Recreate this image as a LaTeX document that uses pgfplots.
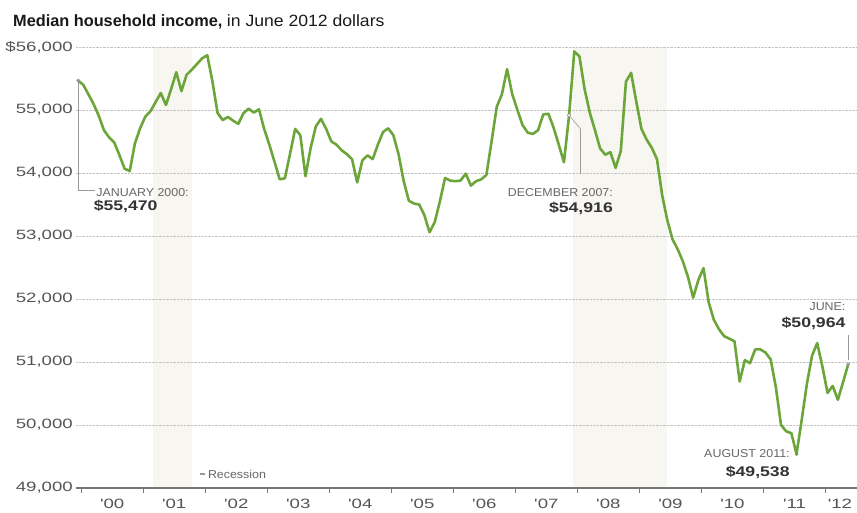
\documentclass[border=0pt]{standalone}
\usepackage{fontspec}
\setmainfont{Liberation Sans}
\newfontfamily\numfont[FakeStretch=1.38]{Liberation Sans}
\newfontfamily\capfont[FakeStretch=1.08]{Liberation Sans}
\newfontfamily\valfont[FakeStretch=1.26]{Liberation Sans}
\usepackage{pgfplots}
\usepackage{pgfplotstable}
\pgfplotsset{compat=1.18}
\definecolor{linegreen}{RGB}{108,166,58}
\definecolor{textgray}{HTML}{555555}
\definecolor{capgray}{HTML}{666666}
\definecolor{valgray}{HTML}{333333}
\definecolor{gridgray}{HTML}{C4C4C4}
\definecolor{recess}{HTML}{F8F6F1}
\definecolor{axisgray}{HTML}{777777}
\definecolor{leadgray}{HTML}{9A9A9A}

\pgfplotstableread{
m v
0 55470
1 55400
2 55250
3 55095
4 54910
5 54680
6 54566
7 54484
8 54285
9 54069
10 54030
11 54470
12 54709
13 54894
14 54980
15 55125
16 55270
17 55080
18 55330
19 55600
20 55300
21 55560
22 55640
23 55730
24 55820
25 55870
26 55450
27 54950
28 54840
29 54890
30 54830
31 54780
32 54950
33 55020
34 54960
35 55010
36 54700
37 54450
38 54180
39 53900
40 53915
41 54300
42 54700
43 54600
44 53950
45 54400
46 54740
47 54860
48 54700
49 54500
50 54450
51 54360
52 54300
53 54220
54 53850
55 54200
56 54280
57 54220
58 54450
59 54650
60 54710
61 54600
62 54300
63 53870
64 53560
65 53515
66 53500
67 53330
68 53060
69 53220
70 53550
71 53920
72 53880
73 53870
74 53880
75 53990
76 53800
77 53870
78 53900
79 53970
80 54500
81 55050
82 55250
83 55650
84 55250
85 55000
86 54760
87 54640
88 54620
89 54680
90 54930
91 54940
92 54720
93 54450
94 54170
95 54916
96 55930
97 55850
98 55330
99 54960
100 54680
101 54390
102 54290
103 54330
104 54080
105 54350
106 55450
107 55590
108 55130
109 54700
110 54530
111 54400
112 54220
113 53650
114 53250
115 52950
116 52790
117 52600
118 52350
119 52020
120 52300
121 52490
122 51950
123 51670
124 51520
125 51410
126 51370
127 51330
128 50690
129 51030
130 50980
131 51200
132 51200
133 51150
134 51040
135 50600
136 50000
137 49900
138 49870
139 49538
140 50080
141 50650
142 51100
143 51300
144 50930
145 50510
146 50620
147 50400
148 50680
149 50964
}\income

\begin{document}
\begin{tikzpicture}
\begin{axis}[
  name=ax,
  at={(0pt,0pt)}, anchor=south west,
  scale only axis,
  width=781pt, height=441pt,
  xmin=-0.4, xmax=150.7,
  ymin=49000, ymax=56000,
  scaled ticks=false,
  set layers=standard,
  clip=false,
  axis x line=bottom, axis y line=left,
  x axis line style={-, draw=axisgray, line width=1.3pt},
  y axis line style={draw=none},
  xtick={6.6,18.6,30.6,42.6,54.6,66.6,78.6,90.6,102.6,114.6,126.6,138.6,147.4},
  xticklabels={{'00},{'01},{'02},{'03},{'04},{'05},{'06},{'07},{'08},{'09},{'10},{'11},{'12}},
  minor xtick={0.6,12.6,...,144.6},
  ytick={49000,50000,...,56000},
  yticklabels={{49,000},{50,000},{51,000},{52,000},{53,000},{54,000},{55,000},{\$56,000}},
  major tick length=0pt,
  minor tick length=5pt,
  tick align=outside,
  minor tick style={axisgray, line width=1pt},
  ymajorgrids=true,
  major grid style={densely dotted, gridgray, line width=0.7pt},
  yticklabel style={font=\numfont\fontsize{13.5pt}{14pt}\selectfont, text=textgray, inner sep=1pt, xshift=-2pt},
  xticklabel style={font=\numfont\fontsize{13.5pt}{14pt}\selectfont, text=textgray, inner sep=0pt, yshift=-11pt},
]
% recession bands
\addplot[fill=recess, draw=none, on layer=axis background] coordinates {(14.5,49000) (22,49000) (22,56000) (14.5,56000)} -- cycle;
\addplot[fill=recess, draw=none, on layer=axis background] coordinates {(95.7,49000) (114,49000) (114,56000) (95.7,56000)} -- cycle;

% leader lines
\draw[leadgray, line width=0.6pt] (axis cs:0,55470) -- (axis cs:0,53730) -- (axis cs:3.3,53730);
\draw[leadgray, line width=0.6pt] (axis cs:95,54916) -- (axis cs:96.3,54788) -- (axis cs:97.2,54700) -- (axis cs:97.2,53995);
\draw[leadgray, line width=0.6pt] (axis cs:149,51430) -- (axis cs:149,51030);
\draw[leadgray, line width=1.2pt] (axis cs:23.6,49222) -- (axis cs:24.5,49222);

% main series
\addplot[linegreen, line width=2.6pt, line join=round] table[x=m, y=v] {\income};

% highlighted points
\addplot[only marks, mark=*, mark size=1.6pt, mark options={fill=leadgray, draw=leadgray}] coordinates {(0,55470) (149,50964)};
\addplot[only marks, mark=*, mark size=1.6pt, mark options={fill=linegreen!70!gray, draw=linegreen!70!gray}] coordinates {(139,49538)};
\addplot[only marks, mark=*, mark size=1.8pt, mark options={fill=white, draw=leadgray, line width=0.6pt}] coordinates {(95,54916)};

% annotations
\node[anchor=base west, inner sep=0pt, text=capgray, font=\capfont\fontsize{11.5pt}{12pt}\selectfont] at (axis cs:3.5,53624) {JANUARY 2000:};
\node[anchor=base west, inner sep=0pt, text=valgray, font=\valfont\bfseries\fontsize{14pt}{15pt}\selectfont] at (axis cs:3.0,53402) {\$55,470};
\node[anchor=base east, inner sep=0pt, text=capgray, font=\capfont\fontsize{11.5pt}{12pt}\selectfont] at (axis cs:103.5,53624) {DECEMBER 2007:};
\node[anchor=base east, inner sep=0pt, text=valgray, font=\valfont\bfseries\fontsize{14pt}{15pt}\selectfont] at (axis cs:103.5,53381) {\$54,916};
\node[anchor=base east, inner sep=0pt, text=capgray, font=\capfont\fontsize{11.5pt}{12pt}\selectfont] at (axis cs:148.5,51825) {JUNE:};
\node[anchor=base east, inner sep=0pt, text=valgray, font=\valfont\bfseries\fontsize{14pt}{15pt}\selectfont] at (axis cs:148.5,51540) {\$50,964};
\node[anchor=base east, inner sep=0pt, text=capgray, font=\capfont\fontsize{11.5pt}{12pt}\selectfont] at (axis cs:137.7,49492) {AUGUST 2011:};
\node[anchor=base east, inner sep=0pt, text=valgray, font=\valfont\bfseries\fontsize{14pt}{15pt}\selectfont] at (axis cs:137.7,49190) {\$49,538};
\node[anchor=base west, inner sep=0pt, text=capgray, font=\capfont\fontsize{11.5pt}{12pt}\selectfont] at (axis cs:25.1,49143) {Recession};
\end{axis}
% title
\node[anchor=base west, inner sep=0pt, text=black!90, font=\fontsize{16.3pt}{18pt}\selectfont] at (-63pt,461.5pt) {\textbf{Median household income,} {\capfont in June 2012 dollars}};
\pgfresetboundingbox
\path[use as bounding box] (-76pt,-24pt) rectangle (781pt,488pt);
\end{tikzpicture}
\end{document}
